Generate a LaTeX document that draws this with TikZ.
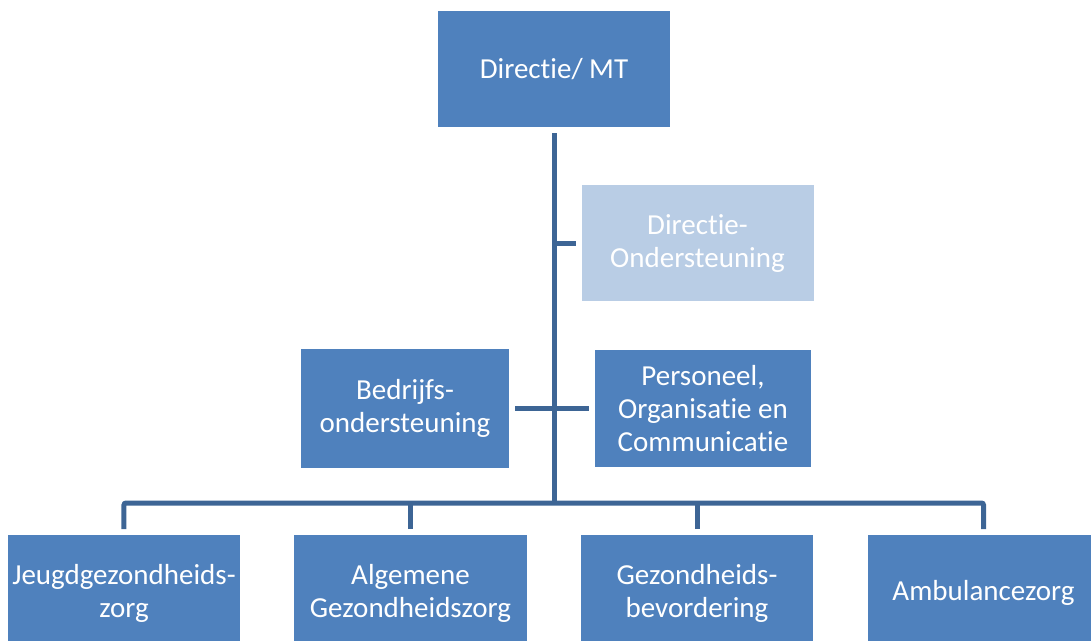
\documentclass[tikz,border=0pt]{standalone}
\usepackage{fontspec}
\setmainfont{Carlito}[Ligatures=NoCommon]
\definecolor{orgblue}{RGB}{79, 129, 189}
\definecolor{orglight}{RGB}{185, 205, 229}
\definecolor{orgline}{RGB}{61, 101, 149}
\usetikzlibrary{positioning}
\tikzstyle{unit} = [rectangle, fill=orgblue, text=white, align=center,
    minimum width=116pt, minimum height=58pt, inner sep=2pt, outer sep=3pt,
    font=\fontsize{14.5}{16.5}\selectfont]
\tikzstyle{staff} = [unit, fill=orglight]
\tikzstyle{line} = [draw, orgline, line width=2.5pt, rounded corners=1pt]

\begin{document}
\begin{tikzpicture}[node distance = 87pt, auto]
  \useasboundingbox (-277pt,34.75pt) rectangle (268.5pt,-285.75pt);
  \clip (-277pt,34.75pt) rectangle (268.5pt,-285.75pt);
  \node [unit] (mt) {Directie/ MT};
  \node [staff, below of=mt, xshift=71.75pt] (dirond) {Directie-\\Ondersteuning};
  \node [unit, below of=mt, node distance=169.5pt, xshift=-74.5pt, minimum width=104pt, minimum height=59pt] (bedrijf) {Bedrijfs-\\ondersteuning};
  \node [unit, below of=mt, node distance=169.5pt, xshift=74.5pt, minimum width=108pt] (poc) {Personeel,\\Organisatie en\\Communicatie};
  \coordinate [below of=mt, node distance=216.75pt] (bar);
  \node [unit, below of=mt, node distance=261.75pt, xshift=-215pt] (jeugd) {Jeugdgezondheids-\\zorg};
  \node [unit, right of=jeugd, node distance=143.25pt] (agz) {Algemene\\Gezondheidszorg};
  \node [unit, right of=agz, node distance=143.25pt] (gvo) {Gezondheids-\\bevordering};
  \node [unit, right of=gvo, node distance=143.25pt] (ambu) {Ambulancezorg};
  \path [line] (mt) -- (bar);
  \path [line] (dirond) -- (dirond -| mt);
  \path [line] (bedrijf) -- (poc);
  \path [line] (jeugd) |- (bar) -| (ambu);
  \path [line] (agz) -- (agz |- bar);
  \path [line] (gvo) -- (gvo |- bar);
\end{tikzpicture}
\end{document}
